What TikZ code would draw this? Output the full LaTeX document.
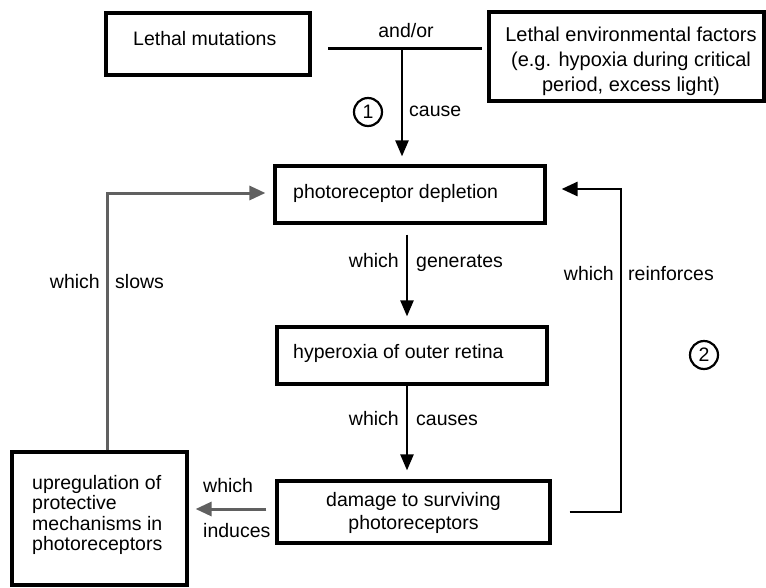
\documentclass[tikz,border=0pt]{standalone}
\usepackage{fontspec}
\setmainfont{Liberation Sans}
\usetikzlibrary{arrows.meta}
\begin{document}
\begin{tikzpicture}[x=1pt,y=-1pt,
  every node/.style={font=\fontsize{19.5}{23}\selectfont},
  boxst/.style={draw, line width=3.2pt, inner sep=0pt},
  txt/.style={inner sep=0pt, text height=14pt, text depth=4pt},
  arr/.style={line width=2.4pt, -{Triangle[length=16pt,width=13pt]}},
  garr/.style={line width=3pt, draw=gray!75!black, -{Triangle[length=16pt,width=14pt]}},
  numc/.style={draw, circle, line width=2.2pt, minimum size=28pt, inner sep=0pt}]
\useasboundingbox (0,0) rectangle (766,587);
% boxes
\node[boxst, minimum width=204pt, minimum height=62pt] (lm) at (208,44) {};
\node[boxst, minimum width=275pt, minimum height=89pt] (ef) at (626.5,56.5) {};
\node[boxst, minimum width=270pt, minimum height=57pt] (pd) at (410,194.5) {};
\node[boxst, minimum width=270pt, minimum height=57pt] (hy) at (412,355.5) {};
\node[boxst, minimum width=273pt, minimum height=62pt] (dm) at (413.5,512) {};
\node[boxst, minimum width=175pt, minimum height=133pt] (up) at (99.5,518.5) {};
% box texts
\node[txt, anchor=west] (tlm) at (133,40) {Lethal mutations};
\node[inner sep=0pt, align=center, font=\fontsize{20}{25}\selectfont] (tef) at (631,61) {Lethal environmental factors\\(e.g. hypoxia during critical\\period, excess light)};
\node[txt, anchor=west] (tpd) at (293,193) {photoreceptor depletion};
\node[txt, anchor=west] (thy) at (293,353) {hyperoxia of outer retina};
\node[inner sep=0pt, align=center, font=\fontsize{19.5}{23}\selectfont] (tdm) at (413.5,513) {damage to surviving\\photoreceptors};
\node[inner sep=0pt, align=left, anchor=west, font=\fontsize{19.5}{20.5}\selectfont] (tup) at (32,515) {upregulation of\\protective\\mechanisms in\\photoreceptors};
% and/or junction
\coordinate (ao1) at (328,48);
\coordinate (ao2) at (482,48);
\coordinate (aoj) at (402,48);
\draw[line width=3pt] (ao1) -- (ao2);
\node[txt] (andor) at (406,32) {and/or};
\draw[arr, shorten >=8pt] (aoj) -- (pd.north -| aoj);
\node[numc] (c1) at (368,112) {1};
\node[txt, anchor=west] (lcause) at (409,111) {cause};
% generates
\coordinate (gx) at (407,0);
\draw[arr, shorten <=10pt, shorten >=9pt] (pd.south -| gx) -- (hy.north -| gx);
\node[txt, anchor=east] (lw1) at (399,262) {which};
\node[txt, anchor=west] (lg1) at (416,262) {generates};
% causes
\draw[arr, shorten >=9pt] (hy.south -| gx) -- (dm.north -| gx);
\node[txt, anchor=east] (lw2) at (399,420) {which};
\node[txt, anchor=west] (lc2) at (416,420) {causes};
% reinforces
\coordinate (rx) at (621,350);
\draw[line width=2.8pt, -{Triangle[length=16pt,width=14pt]}, shorten <=18pt, shorten >=15pt] (dm.east) -| (rx) |- ([yshift=5.5pt]pd.east);
\node[txt, anchor=east] (lw3) at (614,275) {which};
\node[txt, anchor=west] (lr3) at (628,275) {reinforces};
\node[numc] (c2) at (704,355) {2};
% slows
\coordinate (sx) at (107,0);
\draw[garr, shorten >=8pt] (up.north -| sx) |- ([yshift=1.5pt]pd.west);
\node[txt, anchor=east] (lw4) at (100,283) {which};
\node[txt, anchor=west] (ls4) at (115,283) {slows};
% induces
\draw[garr, shorten <=9pt, shorten >=7pt] ([yshift=3pt]dm.west) -- ([yshift=3pt]dm.west -| up.east);
\node[txt, anchor=west] (lw5) at (203,487) {which};
\node[txt, anchor=west] (li5) at (203,532) {induces};
\end{tikzpicture}
\end{document}
